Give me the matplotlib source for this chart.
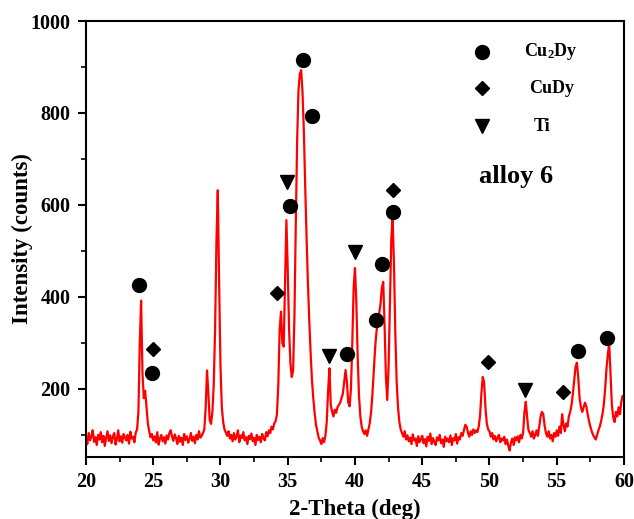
import numpy as np
import matplotlib
matplotlib.use("Agg")
import matplotlib.pyplot as plt

plt.rcParams["font.family"] = ["Liberation Serif", "DejaVu Serif"]
plt.rcParams["font.weight"] = "bold"
plt.rcParams["mathtext.default"] = "regular"

# =====================================================
# DATA  (2-theta from 20 to 60 deg, step 0.1)
# =====================================================

two_theta = np.round(np.arange(20.0, 60.01, 0.1), 1)

counts = [
    92, 80, 104, 88, 97, 110, 85, 95, 78, 100,          # 20
    90, 106, 84, 98, 76, 93, 108, 87, 99, 82,           # 21
    96, 104, 79, 91, 110, 86, 97, 83, 102, 94,          # 22
    88, 100, 81, 107, 92, 96, 84, 105, 112, 150,        # 23
    300, 392, 235, 180, 196, 160, 125, 108, 95, 102,    # 24
    88, 97, 84, 106, 79, 92, 100, 86, 95, 81,           # 25
    99, 90, 104, 110, 96, 87, 101, 93, 80, 98,          # 26
    85, 94, 78, 102, 89, 97, 83, 91, 104, 87,           # 27
    96, 82, 100, 90, 108, 94, 98, 104, 112, 160,        # 28
    240, 190, 132, 124, 150, 210, 330, 520, 632, 430,   # 29
    250, 160, 128, 112, 105, 98, 108, 92, 100, 86,      # 30
    104, 90, 97, 110, 84, 99, 93, 106, 88, 95,          # 31
    80, 98, 91, 103, 86, 94, 78, 100, 89, 96,           # 32
    84, 102, 93, 88, 106, 97, 110, 104, 118, 112,       # 33
    125, 130, 145, 210, 330, 368, 300, 292, 430, 567,   # 34
    460, 330, 255, 226, 240, 360, 560, 740, 850, 885,   # 35
    893, 845, 760, 640, 530, 430, 350, 280, 220, 180,   # 36
    148, 122, 108, 94, 88, 80, 93, 84, 98, 128,         # 37
    195, 245, 165, 150, 140, 155, 148, 160, 165, 170,   # 38
    180, 190, 215, 241, 215, 170, 162, 200, 300, 420,   # 39
    463, 390, 270, 185, 140, 118, 108, 102, 110, 98,    # 40
    112, 126, 150, 190, 240, 290, 325, 345, 365, 385,   # 41
    420, 433, 340, 225, 176, 250, 390, 525, 572, 470,   # 42
    320, 215, 160, 128, 112, 104, 96, 108, 90, 99,      # 43
    86, 94, 80, 101, 88, 92, 76, 97, 84, 90,            # 44
    98, 82, 91, 75, 96, 87, 103, 80, 93, 85,            # 45
    78, 95, 88, 100, 82, 90, 74, 96, 86, 92,            # 46
    84, 99, 78, 93, 88, 102, 81, 95, 90, 104,           # 47
    98, 110, 122, 118, 105, 96, 108, 100, 112, 104,     # 48
    110, 106, 118, 142, 190, 226, 215, 160, 125, 112,   # 49
    108, 96, 104, 90, 98, 86, 94, 100, 84, 92,          # 50
    88, 96, 80, 90, 76, 66, 84, 92, 78, 95,             # 51
    88, 97, 84, 100, 92, 105, 150, 172, 138, 110,       # 52
    104, 96, 108, 92, 100, 110, 98, 118, 140, 150,      # 53
    145, 120, 104, 96, 108, 92, 100, 86, 104, 96,       # 54
    110, 98, 118, 104, 145, 122, 108, 125, 118, 140,    # 55
    150, 165, 190, 220, 248, 257, 225, 180, 160, 150,   # 56
    160, 170, 162, 145, 130, 118, 108, 100, 95, 90,     # 57
    100, 110, 118, 130, 145, 165, 200, 245, 275, 300,   # 58
    230, 165, 138, 128, 150, 140, 160, 145, 172, 185,   # 59
    180,                                                # 60
]

# phase markers
cu2dy_x = [23.96, 24.88, 35.17, 36.16, 36.83, 39.38, 41.59, 42.03, 42.85, 56.6, 58.76]
cu2dy_y = [426, 235, 598, 915, 793, 276, 350, 472, 585, 283, 311]

cudy_x = [24.96, 34.18, 42.8, 49.86, 55.49]
cudy_y = [287, 408, 633, 259, 194]

ti_x = [34.97, 38.09, 40.0, 52.64]
ti_y = [649, 272, 497, 198]

legend_labels = ["Cu$_2$Dy", "CuDy", "Ti"]

# =====================================================
# FIGURE
# =====================================================

fig = plt.figure(figsize=(6.34, 5.19), dpi=100)
ax = fig.add_axes([0.1356, 0.1195, 0.8486, 0.84])

ax.plot(two_theta, counts, color="red", linewidth=1.6)

ax.plot(cu2dy_x, cu2dy_y, "o", color="black", markersize=10)
ax.plot(cudy_x, cudy_y, "D", color="black", markersize=7.5)
ax.plot(ti_x, ti_y, "v", color="black", markersize=9.5)

# -----------------------------------------------------
# LEGEND (drawn by hand, labels centred)
# -----------------------------------------------------

leg_markers = [("o", 10), ("D", 7.5), ("v", 9.5)]
leg_rows = [0.930, 0.846, 0.759]
leg_text_x = [0.864, 0.866, 0.847]

for (m, ms), row, lab, tx in zip(leg_markers, leg_rows, legend_labels, leg_text_x):
    ax.plot([0.737], [row], m, color="black", markersize=ms,
            transform=ax.transAxes, clip_on=False)
    ax.text(tx, row, lab, transform=ax.transAxes, ha="center", va="center",
            fontsize=13, fontweight="bold")

ax.text(0.800, 0.643, "alloy 6", transform=ax.transAxes, ha="center",
        va="center", fontsize=19, fontweight="bold")

# =====================================================
# FORMATTING
# =====================================================

ax.set_xlim(20, 60)
ax.set_ylim(52, 1000)

ax.set_xticks([20, 25, 30, 35, 40, 45, 50, 55, 60])
ax.set_xticks(np.arange(22.5, 60, 5), minor=True)
ax.set_yticks([200, 400, 600, 800, 1000])
ax.set_yticks([100, 300, 500, 700, 900], minor=True)

ax.tick_params(which="major", direction="out", length=6, width=1.5,
               labelsize=14.5, pad=5)
ax.tick_params(which="minor", direction="out", length=3.5, width=1.2)

for sp in ax.spines.values():
    sp.set_linewidth(1.5)

ax.set_xlabel("2-Theta (deg)", fontsize=16.5, fontweight="bold", labelpad=5)
ax.set_ylabel("Intensity (counts)", fontsize=16.5, fontweight="bold", labelpad=-1.5)

plt.savefig("out.png", dpi=100)
